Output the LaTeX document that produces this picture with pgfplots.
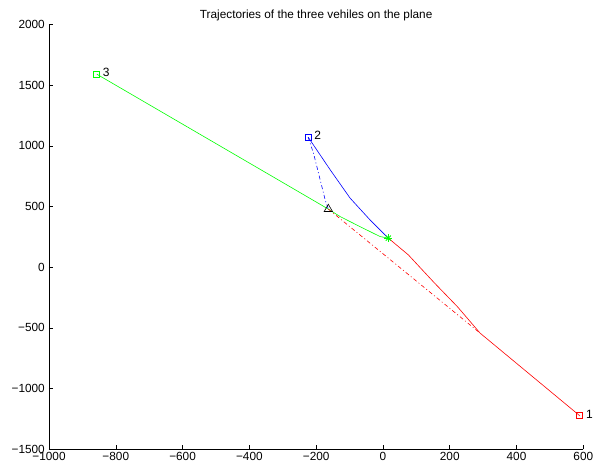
\documentclass[border=0pt]{standalone}
\usepackage{fontspec}
\setmainfont{Liberation Sans}
\usepackage{pgfplots}
\pgfplotsset{compat=1.18}
\begin{document}
\fontsize{12pt}{14pt}\selectfont
\begin{tikzpicture}
\path[use as bounding box] (-49pt,-20.7pt) rectangle (547pt,449.3pt);
\begin{axis}[
  at={(0pt,0pt)}, anchor=south west,
  scale only axis, width=534.3pt, height=424.8pt,
  xmin=-1000, xmax=600, ymin=-1500, ymax=2000,
  axis x line*=bottom, axis y line*=left,
  axis line style={-, line width=0.5pt},
  tick align=inside, major tick length=4.5pt,
  tick style={line width=0.5pt, black},
  xtick={-1000,-800,-600,-400,-200,0,200,400,600},
  xticklabels={−1000,−800,−600,−400,−200,0,200,400,600},
  ytick={-1500,-1000,-500,0,500,1000,1500,2000},
  yticklabels={−1500,−1000,−500,0,500,1000,1500,2000},
  ticklabel style={font=\fontsize{11.8pt}{14pt}\selectfont},
  xticklabel style={yshift=1pt},
  title={Trajectories of the three vehiles on the plane},
  title style={at={(0.5,1)}, anchor=base, yshift=-0.5pt, font=\fontsize{11.8pt}{14pt}\selectfont},
  clip=false,
]
% vehicle 3 (green)
\addplot[green, line width=0.6pt] coordinates {
  (-857,1591) (-308,711) (-163.5,479) (-128.5,418) (-69,335) (-8.7,253) (16,240)};
% vehicle 2 (blue)
\addplot[blue, line width=0.6pt] coordinates {
  (-224,1072) (-158,803) (-98.5,570) (-39,391) (16,240)};
\addplot[blue, line width=0.6pt, dash pattern=on 4pt off 2.5pt on 1pt off 2.5pt] coordinates {
  (-224,1072) (-208,940) (-188,720) (-173,555) (-163.5,479)};
% vehicle 1 (red)
\addplot[red, line width=0.6pt] coordinates {
  (16,240) (76,102) (153,-126) (223,-325) (291,-543) (590,-1225)};
\addplot[red, line width=0.6pt, dash pattern=on 4pt off 2.5pt on 1pt off 2.5pt] coordinates {
  (-163.5,479) (291,-543)};
% start markers
\addplot[draw=red, only marks, mark=square, mark size=3pt, line width=1pt] coordinates {(590,-1225)};
\addplot[draw=blue, only marks, mark=square, mark size=3pt, line width=1pt] coordinates {(-224,1072)};
\addplot[draw=green, only marks, mark=square, mark size=3pt, line width=1.1pt] coordinates {(-857,1591)};
% meeting points
\addplot[black, only marks, mark=triangle, mark size=4.8pt, mark options={draw=black, line width=0.6pt}] coordinates {(-163.5,479)};
\addplot[green, only marks, mark=+, mark size=4pt, mark options={draw=green, line width=0.9pt}] coordinates {(16,240)};
\addplot[green, only marks, mark=x, mark size=3.6pt, mark options={draw=green, line width=0.9pt}] coordinates {(16,240)};
% labels
\node[anchor=west, inner sep=0pt, xshift=6pt, yshift=2pt] at (axis cs:590,-1225) {1};
\node[anchor=west, inner sep=0pt, xshift=6pt, yshift=2pt] at (axis cs:-224,1072) {2};
\node[anchor=west, inner sep=0pt, xshift=6pt, yshift=2pt] at (axis cs:-857,1591) {3};
\end{axis}
\end{tikzpicture}
\end{document}
